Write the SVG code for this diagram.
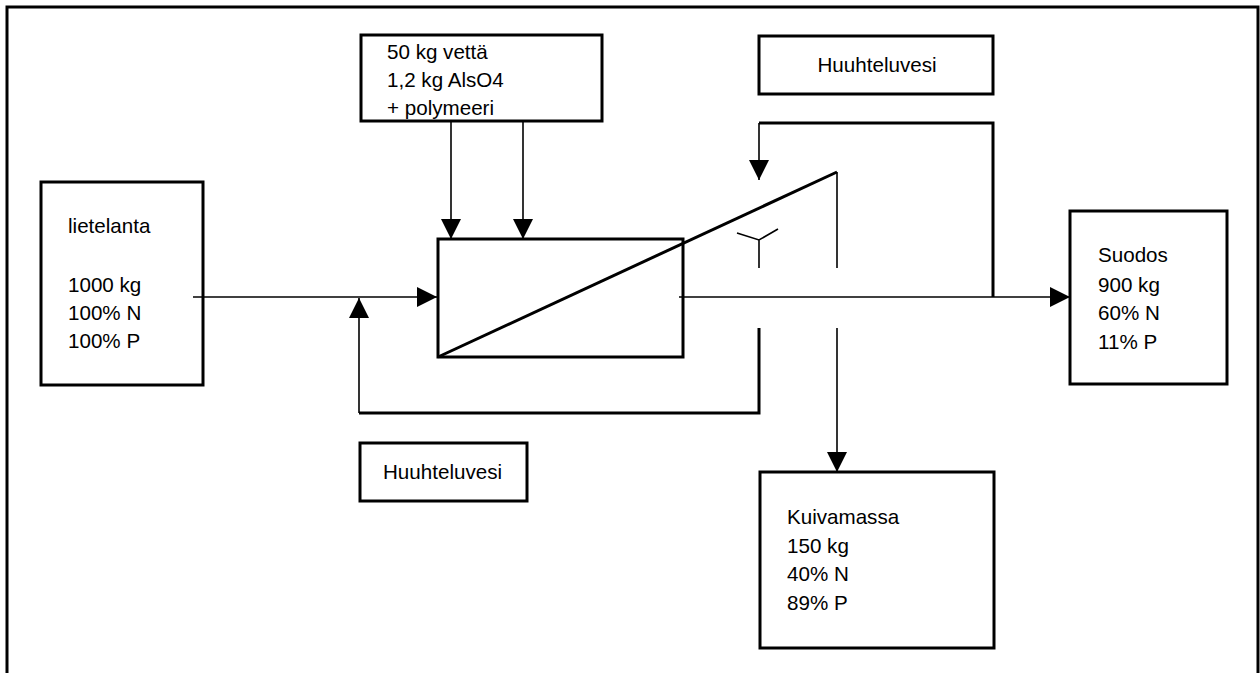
<svg xmlns="http://www.w3.org/2000/svg" width="1260" height="673" viewBox="0 0 1260 673">
  <defs>
    <style>
      .box { fill: #ffffff; stroke: #000000; stroke-width: 3; }
      .txt { font-family: "Liberation Sans", Arial, sans-serif; font-size: 20.6px; fill: #000000; }
      .thin { fill: none; stroke: #000000; stroke-width: 1.6; }
      .thick { fill: none; stroke: #000000; stroke-width: 3; }
    </style>
    <marker id="arrow" viewBox="0 0 20 20" refX="20" refY="10" markerWidth="20" markerHeight="20" markerUnits="userSpaceOnUse" orient="auto">
      <path d="M0,0 L20,10 L0,20 z" fill="#000000"/>
    </marker>
  </defs>
  <rect width="1260" height="673" fill="#ffffff"/>

  <!-- outer frame -->
  <path class="thick" d="M7,673 L7,7 L1258,7 L1258,673"/>

  <g id="lietelanta">
    <rect class="box" x="41" y="182" width="162" height="203"/>
    <text class="txt" x="68" y="233">lietelanta</text>
    <text class="txt" x="68" y="292">1000 kg</text>
    <text class="txt" x="68" y="320">100% N</text>
    <text class="txt" x="68" y="348">100% P</text>
  </g>

  <g id="kemikaalit">
    <rect class="box" x="361" y="35" width="241" height="86"/>
    <text class="txt" x="387" y="59">50 kg vettä</text>
    <text class="txt" x="387" y="87">1,2 kg AlsO4</text>
    <text class="txt" x="387" y="115">+ polymeeri</text>
  </g>

  <g id="prosessi">
    <rect class="box" x="438" y="239" width="245" height="118"/>
  </g>

  <g id="huuhteluvesi-ylä">
    <rect class="box" x="759" y="36" width="234" height="58"/>
    <text class="txt" x="877" y="72" text-anchor="middle">Huuhteluvesi</text>
  </g>

  <g id="huuhteluvesi-ala">
    <rect class="box" x="360" y="443" width="167" height="58"/>
    <text class="txt" x="383" y="479">Huuhteluvesi</text>
  </g>

  <g id="suodos">
    <rect class="box" x="1070" y="211" width="157" height="173"/>
    <text class="txt" x="1098" y="262">Suodos</text>
    <text class="txt" x="1098" y="292">900 kg</text>
    <text class="txt" x="1098" y="320">60% N</text>
    <text class="txt" x="1098" y="349">11% P</text>
  </g>

  <g id="kuivamassa">
    <rect class="box" x="760" y="472" width="234" height="176"/>
    <text class="txt" x="787" y="524">Kuivamassa</text>
    <text class="txt" x="787" y="553">150 kg</text>
    <text class="txt" x="787" y="581">40% N</text>
    <text class="txt" x="787" y="610">89% P</text>
  </g>

  <g id="erotin">
    <line class="thick" x1="438" y1="357" x2="837" y2="172"/>
    <line class="thin" x1="837" y1="172" x2="837" y2="268"/>
    <path class="thin" d="M737,233 L759,240 L778,229 M759,240 L759,268"/>
  </g>

  <g id="connectors">
    <line class="thin" x1="193" y1="297" x2="437" y2="297" marker-end="url(#arrow)"/>
    <line class="thin" x1="451" y1="122" x2="451" y2="239" marker-end="url(#arrow)"/>
    <line class="thin" x1="523" y1="122" x2="523" y2="239" marker-end="url(#arrow)"/>
    <path class="thick" d="M759,328 L759,413 L359,413"/>
    <line class="thin" x1="359" y1="413" x2="359" y2="298" marker-end="url(#arrow)"/>
    <line class="thin" x1="679" y1="297" x2="1070" y2="297" marker-end="url(#arrow)"/>
    <path class="thick" d="M993,297 L993,123 L759,123"/>
    <line class="thin" x1="759" y1="123" x2="759" y2="180" marker-end="url(#arrow)"/>
    <line class="thin" x1="837" y1="328" x2="837" y2="472" marker-end="url(#arrow)"/>
  </g>
</svg>
